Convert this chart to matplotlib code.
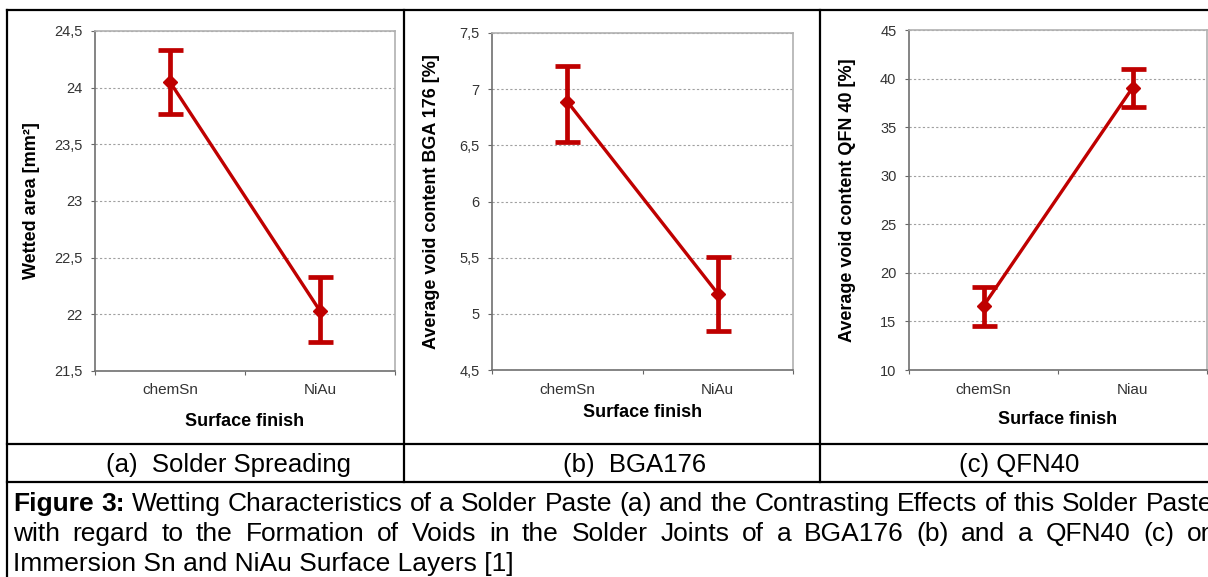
import numpy as np
import matplotlib
matplotlib.use("Agg")
import matplotlib.pyplot as plt
from matplotlib.lines import Line2D

plt.rcParams["font.family"] = ["Liberation Sans", "DejaVu Sans"]

# --- data ---
cats_a = ["chemSn", "NiAu"]
wetted_area = [24.05, 22.03]
wetted_lo = [0.28, 0.27]
wetted_hi = [0.28, 0.30]

cats_b = ["chemSn", "NiAu"]
void_bga = [6.89, 5.18]
void_bga_lo = [0.36, 0.33]
void_bga_hi = [0.32, 0.33]

cats_c = ["chemSn", "Niau"]
void_qfn = [16.6, 39.05]
void_qfn_lo = [2.1, 2.0]
void_qfn_hi = [1.95, 1.95]

panel_titles = ["(a)  Solder Spreading", "(b)  BGA176", "(c) QFN40"]

caption_1 = "Wetting Characteristics of a Solder Paste (a) and the Contrasting Effects of this Solder Paste"
caption_2 = "with regard to the Formation of Voids in the Solder Joints of a BGA176 (b) and a QFN40 (c) on"
caption_3 = "Immersion Sn and NiAu Surface Layers [1]"

W, H = 1208, 577
RED = "#bf0000"

fig = plt.figure(figsize=(W / 100, H / 100), dpi=100)


def fmt(v):
    if abs(v - round(v)) < 1e-9:
        return str(int(round(v)))
    return ("%g" % v).replace(".", ",")


def panel(box, cats, vals, lo, hi, ylim, step, ylabel, ylab_x, xlab_y):
    l, t, r, b = box
    ax = fig.add_axes([l / W, 1 - b / H, (r - l) / W, (b - t) / H])
    x = np.arange(len(cats)) + 0.5
    ax.errorbar(x, vals, yerr=[lo, hi], color=RED, lw=2.4, elinewidth=3.4,
                capsize=9, capthick=3.4, marker="D", ms=7, zorder=3)
    ax.set_xlim(0, len(cats))
    ax.set_ylim(*ylim)
    ticks = np.arange(ylim[0], ylim[1] + step / 2, step)
    ax.set_yticks(ticks)
    ax.set_yticklabels([fmt(v) for v in ticks])
    ax.set_xticks(np.arange(len(cats) + 1))
    ax.set_xticklabels([])
    ax.set_xticks(x, minor=True)
    ax.set_xticklabels(cats, minor=True)
    ax.tick_params(axis="x", which="minor", length=0, pad=9,
                   labelsize=11, labelcolor="#333333")
    ax.tick_params(axis="x", which="major", length=3, color="#666666")
    ax.tick_params(axis="y", length=3, pad=6, color="#666666",
                   labelsize=10.5, labelcolor="#333333")
    ax.yaxis.grid(True, color="#a0a0a0", lw=0.8, ls=(0, (2, 2)))
    ax.set_axisbelow(True)
    for s in ["left", "bottom"]:
        ax.spines[s].set_color("#707070")
        ax.spines[s].set_linewidth(1.2)
    for s in ["top", "right"]:
        ax.spines[s].set_color("#b0b0b0")
        ax.spines[s].set_linewidth(1.2)
    ax.set_ylabel(ylabel, fontsize=13, fontweight="bold", va="center")
    ax.yaxis.set_label_coords(ylab_x, 0.5)
    ax.set_xlabel("Surface finish", fontsize=13, fontweight="bold", va="center")
    ax.xaxis.set_label_coords(0.5, xlab_y)
    return ax


panel((95, 31, 395, 371), cats_a, wetted_area, wetted_lo, wetted_hi,
      (21.5, 24.5), 0.5, "Wetted area [mm²]", -0.21, -0.15)
panel((492, 33, 793, 370), cats_b, void_bga, void_bga_lo, void_bga_hi,
      (4.5, 7.5), 0.5, "Average void content BGA 176 [%]", -0.20, -0.125)
panel((909, 30, 1207, 370), cats_c, void_qfn, void_qfn_lo, void_qfn_hi,
      (10, 45), 5, "Average void content QFN 40 [%]", -0.205, -0.145)


# table frame around the panels
def hline(y, x0, x1):
    fig.add_artist(Line2D([x0 / W, x1 / W], [1 - y / H, 1 - y / H],
                          color="black", lw=1.6, transform=fig.transFigure))


def vline(x, y0, y1):
    fig.add_artist(Line2D([x / W, x / W], [1 - y0 / H, 1 - y1 / H],
                          color="black", lw=1.6, transform=fig.transFigure))


hline(10, 7, W)
hline(444, 7, W)
hline(482, 7, W)
vline(7, 10, H)
vline(404, 10, 482)
vline(820, 10, 482)

for cx, txt in zip([228, 635, 1019], panel_titles):
    fig.text(cx / W, 1 - 465 / H, txt, fontsize=18.5, ha="center", va="center")

# justified figure caption
renderer = fig.canvas.get_renderer()


def justified(words, base_y, x0, x1, bold_n=0, fs=19):
    texts = []
    for i, w in enumerate(words):
        texts.append(fig.text(x0 / W, 1 - base_y / H, w, fontsize=fs,
                              fontweight="bold" if i < bold_n else "normal",
                              va="baseline", ha="left"))
    widths = [t.get_window_extent(renderer=renderer).width for t in texts]
    gap = (x1 - x0 - sum(widths)) / (len(words) - 1)
    pos = x0
    for t, w in zip(texts, widths):
        t.set_x(pos / W)
        pos += w + gap


justified(["Figure", "3:"] + caption_1.split(), 511, 13, 1213, bold_n=2)
justified(caption_2.split(), 541, 13, 1216)
fig.text(13 / W, 1 - 571 / H, caption_3, fontsize=19, va="baseline", ha="left")

fig.savefig("out.png", dpi=100)
